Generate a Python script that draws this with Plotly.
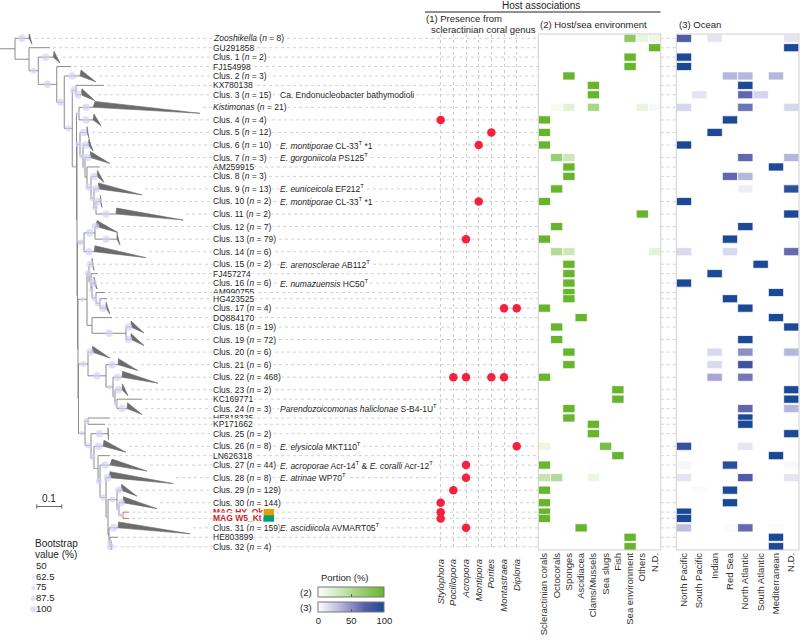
import plotly.graph_objects as go

# ---------------------------------------------------------------- data
row_names = ["Zooshikella", "GU291858", "Clus. 1", "FJ154998", "Clus. 2", "KX780138", "Clus. 3",
             "Kistimonas", "Clus. 4", "Clus. 5", "Clus. 6", "Clus. 7", "AM259915", "Clus. 8", "Clus. 9",
             "Clus. 10", "Clus. 11", "Clus. 12", "Clus. 13", "Clus. 14", "Clus. 15", "FJ457274", "Clus. 16",
             "AM990755", "HG423525", "Clus. 17", "DQ884170", "Clus. 18", "Clus. 19", "Clus. 20", "Clus. 21",
             "Clus. 22", "Clus. 23", "KC169771", "Clus. 24", "HE818335", "KP171662", "Clus. 25", "Clus. 26",
             "LN626318", "Clus. 27", "Clus. 28", "Clus. 29", "Clus. 30", "MAG HY_Ok", "MAG W5_Kt", "Clus. 31",
             "HE803899", "Clus. 32"]
row_members = [8, None, 2, None, 3, None, 15, 21, 4, 12, 10, 3, None, 3, 13, 2, 2, 7, 79, 6, 2, None, 6,
               None, None, 4, None, 19, 72, 6, 6, 468, 2, None, 3, None, None, 2, 8, None, 44, 8, 129, 144,
               None, None, 159, None, 4]
italic_genus_rows = ["Zooshikella", "Kistimonas"]
mag_box_colors = {"MAG HY_Ok": "#E69F00", "MAG W5_Kt": "#009E73"}

species_names = {
    "Clus. 3": "Ca. Endonucleobacter bathymodioli",
    "Clus. 6": "<i>E. montiporae</i> CL-33<sup>T</sup> *1",
    "Clus. 7": "<i>E. gorgoniicola</i> PS125<sup>T</sup>",
    "Clus. 9": "<i>E. euniceicola</i> EF212<sup>T</sup>",
    "Clus. 10": "<i>E. montiporae</i> CL-33<sup>T</sup> *1",
    "Clus. 15": "<i>E. arenosclerae</i> AB112<sup>T</sup>",
    "Clus. 16": "<i>E. numazuensis</i> HC50<sup>T</sup>",
    "Clus. 24": "<i>Parendozoicomonas haliclonae</i> S-B4-1U<sup>T</sup>",
    "Clus. 26": "<i>E. elysicola</i> MKT110<sup>T</sup>",
    "Clus. 27": "<i>E. acroporae</i> Acr-14<sup>T</sup> &amp; <i>E. coralli</i> Acr-12<sup>T</sup>",
    "Clus. 28": "<i>E. atrinae</i> WP70<sup>T</sup>",
    "Clus. 31": "<i>E. ascidiicola</i> AVMART05<sup>T</sup>",
}

coral_genera = ["Stylophora", "Pocillopora", "Acropora", "Montipora", "Porites", "Montastraea", "Diploria"]
coral_presence = {
    "Clus. 4": ["Stylophora"], "Clus. 5": ["Porites"], "Clus. 6": ["Montipora"], "Clus. 10": ["Montipora"],
    "Clus. 13": ["Acropora"], "Clus. 17": ["Montastraea", "Diploria"],
    "Clus. 22": ["Pocillopora", "Acropora", "Porites", "Montastraea"], "Clus. 26": ["Diploria"],
    "Clus. 27": ["Acropora"], "Clus. 28": ["Acropora"], "Clus. 29": ["Pocillopora"],
    "Clus. 30": ["Stylophora"], "MAG HY_Ok": ["Stylophora"], "MAG W5_Kt": ["Stylophora"],
    "Clus. 31": ["Acropora"],
}

host_cols = ["Scleractinian corals", "Octocorals", "Sponges", "Ascidiacea", "Clams/Mussels", "Sea slugs",
             "Fish", "Sea environment", "Others", "N.D."]
host_portion = {
    "Zooshikella": {"Sea environment": 75, "Others": 14, "N.D.": 11},
    "GU291858": {"N.D.": 100},
    "Clus. 1": {"Sea environment": 100},
    "FJ154998": {"Sea environment": 100},
    "Clus. 2": {"Sponges": 100},
    "KX780138": {"Clams/Mussels": 100},
    "Clus. 3": {"Clams/Mussels": 100},
    "Kistimonas": {"Octocorals": 5, "Sponges": 19, "Clams/Mussels": 57, "Others": 14, "N.D.": 5},
    "Clus. 4": {"Scleractinian corals": 100},
    "Clus. 5": {"Scleractinian corals": 100},
    "Clus. 6": {"Scleractinian corals": 100},
    "Clus. 7": {"Octocorals": 67, "Sponges": 33},
    "AM259915": {"Sponges": 100},
    "Clus. 8": {"Sponges": 100},
    "Clus. 9": {"Octocorals": 100},
    "Clus. 10": {"Scleractinian corals": 100},
    "Clus. 11": {"Others": 100},
    "Clus. 12": {"Octocorals": 100},
    "Clus. 13": {"Scleractinian corals": 100},
    "Clus. 14": {"Octocorals": 50, "Sponges": 33, "N.D.": 17},
    "Clus. 15": {"Sponges": 100},
    "FJ457274": {"Sponges": 100},
    "Clus. 16": {"Sponges": 100},
    "AM990755": {"Sponges": 100},
    "HG423525": {"Sponges": 100},
    "Clus. 17": {"Scleractinian corals": 100},
    "DQ884170": {"Ascidiacea": 100},
    "Clus. 18": {"Octocorals": 100},
    "Clus. 19": {"Octocorals": 100},
    "Clus. 20": {"Sponges": 100},
    "Clus. 21": {"Sponges": 100},
    "Clus. 22": {"Scleractinian corals": 99},
    "Clus. 23": {"Fish": 100},
    "KC169771": {"Fish": 100},
    "Clus. 24": {"Sponges": 100},
    "HE818335": {"Sponges": 100},
    "KP171662": {"Clams/Mussels": 100},
    "Clus. 25": {"Clams/Mussels": 100},
    "Clus. 26": {"Scleractinian corals": 12, "Sea slugs": 88},
    "LN626318": {"Fish": 100},
    "Clus. 27": {"Scleractinian corals": 98, "Clams/Mussels": 2},
    "Clus. 28": {"Scleractinian corals": 37.5, "Octocorals": 50, "Clams/Mussels": 12.5},
    "Clus. 29": {"Scleractinian corals": 100},
    "Clus. 30": {"Scleractinian corals": 100},
    "MAG HY_Ok": {"Scleractinian corals": 100},
    "MAG W5_Kt": {"Scleractinian corals": 100},
    "Clus. 31": {"Ascidiacea": 100},
    "HE803899": {"Sea environment": 100},
    "Clus. 32": {"Sea environment": 100},
}

ocean_cols = ["North Pacific", "South Pacific", "Indian", "Red Sea", "North Atlantic", "South Atlantic",
              "Mediterranean", "N.D."]
ocean_portion = {
    "Zooshikella": {"North Pacific": 75, "Indian": 12.5, "N.D.": 12.5},
    "GU291858": {"N.D.": 100},
    "Clus. 1": {"North Pacific": 100},
    "FJ154998": {"North Pacific": 100},
    "Clus. 2": {"Red Sea": 33, "North Atlantic": 33, "Mediterranean": 33},
    "KX780138": {"North Atlantic": 100},
    "Clus. 3": {"South Pacific": 13, "North Atlantic": 67, "South Atlantic": 20},
    "Kistimonas": {"North Pacific": 19, "North Atlantic": 62, "N.D.": 19},
    "Clus. 4": {"Red Sea": 100},
    "Clus. 5": {"Indian": 100},
    "Clus. 6": {"North Pacific": 100},
    "Clus. 7": {"North Atlantic": 67, "N.D.": 33},
    "AM259915": {"Mediterranean": 100},
    "Clus. 8": {"Red Sea": 67, "North Atlantic": 33},
    "Clus. 9": {"North Atlantic": 8, "N.D.": 92},
    "Clus. 10": {"North Pacific": 100},
    "Clus. 11": {"N.D.": 100},
    "Clus. 12": {"North Atlantic": 100},
    "Clus. 13": {"Red Sea": 100},
    "Clus. 14": {"North Pacific": 17, "Red Sea": 17, "N.D.": 66},
    "Clus. 15": {"South Atlantic": 100},
    "FJ457274": {"Indian": 100},
    "Clus. 16": {"North Pacific": 100},
    "AM990755": {"Mediterranean": 100},
    "HG423525": {"Red Sea": 100},
    "Clus. 17": {"North Atlantic": 100},
    "DQ884170": {"Mediterranean": 100},
    "Clus. 18": {"N.D.": 100},
    "Clus. 19": {"North Atlantic": 100},
    "Clus. 20": {"Indian": 17, "North Atlantic": 50, "N.D.": 33},
    "Clus. 21": {"Indian": 17, "North Atlantic": 83},
    "Clus. 22": {"Indian": 40, "North Atlantic": 60},
    "Clus. 23": {"N.D.": 100},
    "KC169771": {"N.D.": 100},
    "Clus. 24": {"North Atlantic": 67, "N.D.": 33},
    "HE818335": {"North Atlantic": 100},
    "KP171662": {"North Atlantic": 100},
    "Clus. 25": {"N.D.": 100},
    "Clus. 26": {"North Pacific": 88, "North Atlantic": 12},
    "LN626318": {"Mediterranean": 100},
    "Clus. 27": {"North Pacific": 4, "Red Sea": 93, "N.D.": 3},
    "Clus. 28": {"North Pacific": 12.5, "North Atlantic": 75, "N.D.": 12.5},
    "Clus. 29": {"South Pacific": 2, "Red Sea": 98},
    "Clus. 30": {"Red Sea": 100},
    "MAG HY_Ok": {"North Pacific": 100},
    "MAG W5_Kt": {"North Pacific": 100},
    "Clus. 31": {"North Pacific": 30, "Red Sea": 2, "North Atlantic": 66, "Mediterranean": 2},
    "HE803899": {"Mediterranean": 100},
    "Clus. 32": {"Mediterranean": 100},
}

bootstrap_levels = [50, 62.5, 75, 87.5, 100]
portion_ticks = [0, 50, 100]
scale_bar_length = 0.1


# tree: node depths in substitutions/site
def node(d, bs, *ch):
    return {"d": d, "bs": bs, "ch": list(ch)}


def clade(name, d, dmin, dmax, bs=100):
    return {"name": name, "d": d, "min": dmin, "max": dmax, "bs": bs}


def leaf(name, d, bs=None):
    return {"name": name, "d": d, "bs": bs}


# group A: Clus. 5 - Clus. 11
ga7 = node(0.384, 87.5, clade("Clus. 10", 0.400, 0.402, 0.408), clade("Clus. 11", 0.464, 0.466, 0.732))
ga6 = node(0.376, 87.5, clade("Clus. 9", 0.392, 0.394, 0.568), ga7)
ga5 = node(0.364, 100, clade("Clus. 8", 0.388, 0.390, 0.416), ga6)
ga4 = node(0.348, None, leaf("AM259915", 0.400), ga5)
ga3 = node(0.340, 62.5, clade("Clus. 7", 0.360, 0.362, 0.440), ga4)
ga2 = node(0.332, 75, clade("Clus. 6", 0.352, 0.356, 0.372), ga3)
GA = node(0.320, 87.5, clade("Clus. 5", 0.348, 0.348, 0.356), ga2)

# group B: Clus. 12 - Clus. 14
gb2 = node(0.380, 100, clade("Clus. 12", 0.384, 0.388, 0.472), clade("Clus. 13", 0.468, 0.468, 0.480))
GB = node(0.336, 87.5, gb2, clade("Clus. 14", 0.376, 0.380, 0.584))

# group C: Clus. 15 - Clus. 19
gc6 = node(0.400, 87.5, leaf("HG423525", 0.428), clade("Clus. 17", 0.424, 0.424, 0.440))
gc5 = node(0.384, 87.5, leaf("AM990755", 0.420), gc6)
gc4 = node(0.368, 75, clade("Clus. 16", 0.376, 0.376, 0.388), gc5)
gc3 = node(0.364, 50, leaf("FJ457274", 0.392), gc4)
gc2 = node(0.356, 87.5, clade("Clus. 15", 0.368, 0.368, 0.376), gc3)
gc8 = node(0.504, 100, clade("Clus. 18", 0.524, 0.524, 0.576), clade("Clus. 19", 0.524, 0.524, 0.576))
gc7 = node(0.368, None, leaf("DQ884170", 0.448), gc8)
GC = node(0.348, 75, gc2, gc7)

# group D: Clus. 20 - Clus. 24
gd5 = node(0.468, 75, leaf("KC169771", 0.568), clade("Clus. 24", 0.508, 0.510, 0.568))
gd4 = node(0.460, 62.5, clade("Clus. 23", 0.488, 0.490, 0.512), gd5)
gd3 = node(0.452, 75, clade("Clus. 22", 0.488, 0.490, 0.632), gd4)
gd2 = node(0.424, 100, clade("Clus. 21", 0.472, 0.474, 0.552), gd3)
GD = node(0.352, 87.5, clade("Clus. 20", 0.368, 0.370, 0.440), gd2)

# group E: HE818335 - Clus. 32 (incl. MAGs)
mag = node(0.492, 75, leaf("MAG HY_Ok", 0.516), leaf("MAG W5_Kt", 0.516))
ge10 = node(0.476, 75, clade("Clus. 30", 0.492, 0.494, 0.628), mag)
ge9 = node(0.468, 87.5, clade("Clus. 29", 0.484, 0.486, 0.548), ge10)
ge12 = node(0.440, 75, leaf("HE803899", 0.472), clade("Clus. 32", 0.444, 0.444, 0.446))
ge11 = node(0.436, None, clade("Clus. 31", 0.472, 0.474, 0.760), ge12)
ge8 = node(0.432, 50, ge9, ge11)
ge7 = node(0.424, 87.5, clade("Clus. 28", 0.436, 0.440, 0.692), ge8)
ge6 = node(0.400, 87.5, clade("Clus. 27", 0.440, 0.448, 0.588), ge7)
ge5 = node(0.392, 50, leaf("LN626318", 0.440), ge6)
ge4 = node(0.376, 87.5, clade("Clus. 26", 0.412, 0.416, 0.504), ge5)
ge3 = node(0.364, 87.5, clade("Clus. 25", 0.432, 0.432, 0.434), ge4)
ge2 = node(0.352, 87.5, leaf("HE818335", 0.440), leaf("KP171662", 0.420))
GE = node(0.340, 75, ge2, ge3)

# backbone
n12 = node(0.314, None, GD, GE)
n11 = node(0.312, None, GC, n12)
n10 = node(0.310, None, GB, n11)
n9 = node(0.308, None, GA, n10)
n8 = node(0.316, 75, clade("Kistimonas", 0.372, 0.380, 0.800), clade("Clus. 4", 0.372, 0.376, 0.404))
n7 = node(0.306, 62.5, n8, n9)
n6 = node(0.304, 100, leaf("KX780138", 0.416), clade("Clus. 3", 0.323, 0.328, 0.380))
n5 = node(0.289, 87.5, n6, n7)
n4 = node(0.257, 100, clade("Clus. 2", 0.320, 0.324, 0.384), n5)
n3 = node(0.227, 100, leaf("FJ154998", 0.284), n4)
n2 = node(0.153, 87.5, clade("Clus. 1", 0.213, 0.216, 0.240), n3)
n1 = node(0.116, None, leaf("GU291858", 0.200), n2)
tree = node(0.060, None, clade("Zooshikella", 0.116, 0.116, 0.128), n1)

# ---------------------------------------------------------------- layout helpers
W, H = 800, 640
FONT = "Liberation Sans, Arial, Helvetica, sans-serif"
TXT = "#1e1e1e"
PX_PER_UNIT = 250.0
Y_TOP_PX, Y_BOT_PX = 34.0, 550.0
TREE_RIGHT_PX = 538.3
CELL = 1.3

# row positions (collapsed clades take two slots, single sequences one)
slot = [2 if m else 1 for m in row_members]
row_y = {}
acc = 0.0
for i, nm in enumerate(row_names):
    acc = slot[0] / 2 if i == 0 else acc + (slot[i - 1] + slot[i]) / 2
    row_y[nm] = acc
y_range = [row_y[row_names[-1]] + 0.53, row_y[row_names[0]] - 0.685]


def px(xp):
    return xp / W


def py(yp):
    return 1 - yp / H


def build(n):
    if "ch" in n:
        for c in n["ch"]:
            build(c)
        n["y"] = (n["ch"][0]["y"] + n["ch"][-1]["y"]) / 2
    else:
        n["y"] = row_y[n["name"]]


build(tree)

line_x, line_y, red_x, red_y, tri_x, tri_y = [], [], [], [], [], []
bs_x, bs_y, bs_v = [], [], []
tip_end = {}


def is_mag(n):
    return n.get("name", "").startswith("MAG")


def draw(n, parent_d):
    lx, ly = (red_x, red_y) if is_mag(n) else (line_x, line_y)
    lx.extend([parent_d, n["d"], None])
    ly.extend([n["y"], n["y"], None])
    if n.get("bs"):
        bs_x.append((parent_d + n["d"]) / 2)
        bs_y.append(n["y"])
        bs_v.append(n["bs"])
    if "ch" in n:
        vx, vy = (red_x, red_y) if all(is_mag(c) for c in n["ch"]) else (line_x, line_y)
        vx.extend([n["d"], n["d"], None])
        vy.extend([n["ch"][0]["y"], n["ch"][-1]["y"], None])
        for c in n["ch"]:
            draw(c, n["d"])
    elif "max" in n:
        tri_x.extend([n["d"], n["min"], n["max"], n["d"], None])
        tri_y.extend([n["y"], n["y"] - 0.95, n["y"] + 0.95, n["y"], None])
        tip_end[n["name"]] = n["max"]
    else:
        tip_end[n["name"]] = n["d"]


draw(tree, 0.0)


def bs_size(v):
    return 2 + (v - 50) / 50 * 5.5


fig = go.Figure()

# dashed guide lines (tree panel through coral panel, and the gap between heatmaps)
gx, gy, g2x, g2y = [], [], [], []
for nm in row_names:
    gx.extend([tip_end[nm] + 0.012, TREE_RIGHT_PX / PX_PER_UNIT, None])
    gy.extend([row_y[nm], row_y[nm], None])
    g2x.extend([0, 1, None])
    g2y.extend([row_y[nm], row_y[nm], None])
dash = dict(color="#c6c6c6", width=0.8, dash="3px,3px")
fig.add_trace(go.Scatter(x=gx, y=gy, mode="lines", line=dash, xaxis="x", yaxis="y", hoverinfo="skip"))
fig.add_trace(go.Scatter(x=g2x, y=g2y, mode="lines", line=dash, xaxis="x5", yaxis="y", hoverinfo="skip"))

# tree
fig.add_trace(go.Scatter(x=line_x, y=line_y, mode="lines", line=dict(color="#8a8a8a", width=1),
                         xaxis="x", yaxis="y", hoverinfo="skip"))
fig.add_trace(go.Scatter(x=red_x, y=red_y, mode="lines", line=dict(color="#e8605a", width=1),
                         xaxis="x", yaxis="y", hoverinfo="skip"))
fig.add_trace(go.Scatter(x=tri_x, y=tri_y, mode="lines", fill="toself", fillcolor="#6c6c6c",
                         line=dict(color="#6c6c6c", width=0.6), xaxis="x", yaxis="y", hoverinfo="skip"))
fig.add_trace(go.Scatter(x=bs_x, y=bs_y, mode="markers",
                         marker=dict(size=[bs_size(v) for v in bs_v], color="#d3d3f6", line=dict(width=0)),
                         xaxis="x", yaxis="y", hoverinfo="skip"))

# scale bar
sb_y = row_y[row_names[-1]] - 6.4
sb_x0 = 0.147
fig.add_trace(go.Scatter(
    x=[sb_x0, sb_x0 + scale_bar_length, None, sb_x0, sb_x0, None, sb_x0 + scale_bar_length, sb_x0 + scale_bar_length],
    y=[sb_y, sb_y, None, sb_y - 0.35, sb_y + 0.35, None, sb_y - 0.35, sb_y + 0.35],
    mode="lines", line=dict(color="#555555", width=0.9), xaxis="x", yaxis="y", hoverinfo="skip"))

# coral presence dots
cx, cy = [], []
for nm in row_names:
    for g in coral_presence.get(nm, []):
        cx.append(coral_genera.index(g))
        cy.append(row_y[nm])
fig.add_trace(go.Scatter(x=cx, y=cy, mode="markers", marker=dict(size=8.5, color="#f4223e"),
                         xaxis="x2", yaxis="y", hoverinfo="skip"))


# heatmap cells
def cells(values, cols, xa, scale, cbar):
    xs, bases, hs, cs = [], [], [], []
    for nm in row_names:
        for col, v in values.get(nm, {}).items():
            xs.append(cols.index(col))
            bases.append(row_y[nm] - CELL / 2)
            hs.append(CELL)
            cs.append(v)
    return go.Bar(x=xs, y=hs, base=bases, width=1, xaxis=xa, yaxis="y", hoverinfo="skip",
                  marker=dict(color=cs, colorscale=scale, cmin=0, cmax=100,
                              line=dict(color="white", width=0.8), showscale=True, colorbar=cbar))


green_scale = [[0, "#ffffff"], [1, "#67b52c"]]
blue_scale = [[0, "#ffffff"], [0.35, "#b3b3dc"], [0.7, "#5a5fab"], [1, "#1b4897"]]
cb_common = dict(orientation="h", x=px(318.3), xanchor="left", yanchor="top", len=66, lenmode="pixels",
                 thickness=10, thicknessmode="pixels", xpad=0, ypad=0, borderwidth=0,
                 outlinewidth=1, outlinecolor="#777777",
                 tickvals=portion_ticks, ticks="inside", ticklen=3, tickcolor="#555555",
                 tickfont=dict(family=FONT, size=9.5, color=TXT))
fig.add_trace(cells(host_portion, host_cols, "x3", green_scale,
                    dict(cb_common, y=py(587.3), showticklabels=False)))
fig.add_trace(cells(ocean_portion, ocean_cols, "x4", blue_scale,
                    dict(cb_common, y=py(601.7), showticklabels=True)))

# bootstrap legend
fig.add_trace(go.Scatter(x=[33.3] * len(bootstrap_levels), y=list(range(len(bootstrap_levels))), mode="markers",
                         marker=dict(size=[bs_size(v) for v in bootstrap_levels], color="#d3d3f6"),
                         xaxis="x6", yaxis="y6", hoverinfo="skip"))
fig.add_trace(go.Scatter(x=[36.0] * len(bootstrap_levels), y=list(range(len(bootstrap_levels))), mode="text",
                         text=[f"{v:g}" for v in bootstrap_levels], textposition="middle right",
                         textfont=dict(family=FONT, size=9.5, color=TXT),
                         xaxis="x6", yaxis="y6", hoverinfo="skip"))

# ---------------------------------------------------------------- annotations
ann = []
for nm, m in zip(row_names, row_members):
    if nm in mag_box_colors:
        ann.append(dict(x=px(212), y=row_y[nm], xref="paper", yref="y", xanchor="left", yanchor="middle",
                        text=f"<b>{nm}</b>", showarrow=False, bgcolor="white", borderpad=0,
                        font=dict(family=FONT, size=8.5, color="#cc1f1f")))
        continue
    if m:
        base = f"<i>{nm}</i>" if nm in italic_genus_rows else nm
        label = f"{base} (<i>n</i> = {m})"
    else:
        label = nm
    ann.append(dict(x=px(212), y=row_y[nm], xref="paper", yref="y", xanchor="left", yanchor="middle",
                    text=label, showarrow=False, bgcolor="white", borderpad=0,
                    font=dict(family=FONT, size=8.5, color=TXT)))
    if nm in species_names:
        ann.append(dict(x=px(279), y=row_y[nm], xref="paper", yref="y", xanchor="left", yanchor="middle",
                        text=species_names[nm], showarrow=False, bgcolor="white", borderpad=0,
                        font=dict(family=FONT, size=8.5, color=TXT)))

ann.append(dict(x=sb_x0 + scale_bar_length / 2, y=sb_y - 1.2, xref="x", yref="y", text="0.1", showarrow=False,
                xanchor="center", yanchor="middle", font=dict(family=FONT, size=10, color=TXT)))


def ptext(text, x, y, size=9.5, xanchor="left"):
    return dict(x=px(x), y=py(y), xref="paper", yref="paper", text=text, showarrow=False, xanchor=xanchor,
                yanchor="middle", font=dict(family=FONT, size=size, color=TXT))


ann += [
    ptext("Host associations", 540.5, 5.5, 10, "center"),
    ptext("(1) Presence from", 424, 19),
    ptext("scleractinian coral genus", 429, 29.3),
    ptext("(2) Host/sea environment", 538, 24.3),
    ptext("(3) Ocean", 676.5, 24.3),
    ptext("Bootstrap", 32.5, 543.8, 10),
    ptext("value (%)", 32.5, 554, 10),
    ptext("Portion (%)", 318.5, 577.5, 9.5),
    ptext("(2)", 314, 592, 9.5, "right"),
    ptext("(3)", 314, 607, 9.5, "right"),
]

shapes = [
    dict(type="line", xref="paper", yref="paper", x0=px(425), x1=px(660.5), y0=py(12), y1=py(12),
         line=dict(color="#222222", width=1)),
    dict(type="rect", xref="x3 domain", yref="y domain", x0=0, x1=1, y0=0, y1=1,
         line=dict(color="#d0d0d0", width=1), layer="above"),
    dict(type="rect", xref="x4 domain", yref="y domain", x0=0, x1=1, y0=0, y1=1,
         line=dict(color="#d0d0d0", width=1), layer="above"),
]
for nm, col in mag_box_colors.items():
    shapes.append(dict(type="rect", xref="paper", yref="y", x0=px(263.3), x1=px(274),
                       y0=row_y[nm] - 0.52, y1=row_y[nm] + 0.52, fillcolor=col, line=dict(width=0)))

tick_font = dict(family=FONT, size=9.5, color="#333333")
ydom = [py(Y_BOT_PX), py(Y_TOP_PX)]
fig.update_layout(
    width=W, height=H, margin=dict(l=0, r=0, t=0, b=0), showlegend=False,
    paper_bgcolor="white", plot_bgcolor="rgba(0,0,0,0)", barmode="overlay",
    font=dict(family=FONT, color=TXT),
    xaxis=dict(domain=[0, px(TREE_RIGHT_PX)], range=[0, TREE_RIGHT_PX / PX_PER_UNIT], visible=False, anchor="y"),
    yaxis=dict(domain=ydom, range=y_range, visible=False, anchor="x"),
    xaxis2=dict(domain=[px(428), px(529.4)], range=[-1, 7], anchor="y", tickvals=list(range(len(coral_genera))),
                ticktext=[f"<i>{g}</i>" for g in coral_genera], tickangle=-90, showgrid=True,
                gridcolor="#cdcdcd", griddash="dot", gridwidth=1, zeroline=False, showline=False, ticks="",
                tickfont=tick_font, ticklabelstandoff=6),
    xaxis3=dict(domain=[px(538.3), px(660.7)], range=[-0.5, len(host_cols) - 0.5], anchor="y",
                tickvals=list(range(len(host_cols))), ticktext=host_cols, tickangle=-90, showgrid=False,
                zeroline=False, showline=False, ticks="", tickfont=tick_font),
    xaxis4=dict(domain=[px(676.3), px(799)], range=[-0.5, len(ocean_cols) - 0.5], anchor="y",
                tickvals=list(range(len(ocean_cols))), ticktext=ocean_cols, tickangle=-90, showgrid=False,
                zeroline=False, showline=False, ticks="", tickfont=tick_font),
    xaxis5=dict(domain=[px(660.7), px(676.3)], range=[0, 1], visible=False, anchor="y"),
    xaxis6=dict(domain=[0, px(100)], range=[0, 100], visible=False, anchor="y6"),
    yaxis6=dict(domain=[py(614.5), py(561.5)], range=[len(bootstrap_levels) - 0.5, -0.5], visible=False,
                anchor="x6"),
    annotations=ann, shapes=shapes,
)

fig.write_html("out.html", config={"displayModeBar": False},
               post_script="document.body.style.margin='0';document.body.style.overflow='hidden';")
